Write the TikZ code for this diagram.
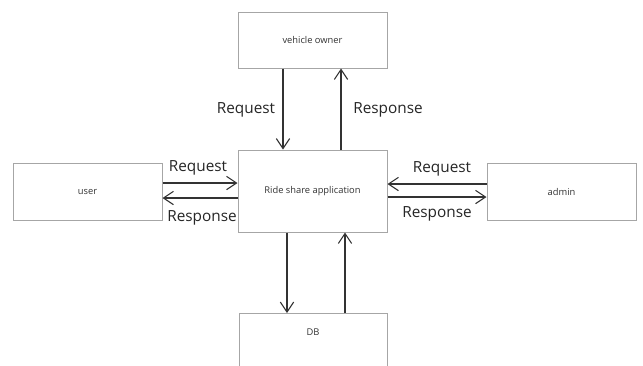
\documentclass[tikz,border=0pt]{standalone}
\usepackage{fontspec}
\setmainfont{Open Sans}
\usetikzlibrary{arrows.meta,calc}
\definecolor{boxgray}{HTML}{A6A6A6}
\definecolor{arrgray}{HTML}{333333}
\tikzset{
  box/.style={draw=boxgray, line width=0.75pt, fill=white, inner sep=0pt,
    minimum width=111.75pt, font=\fontsize{7}{8}\selectfont, text=black!80},
  arr/.style={draw=arrgray, line width=0.8pt,
    -{Straight Barb[length=7.5pt,width=10pt,line width=0.8pt]}},
  lbl/.style={font=\fontsize{11.5}{13}\selectfont, text=black!85, inner sep=0pt}
}
\begin{document}
\begin{tikzpicture}[x=0.75pt,y=-0.75pt]
\clip (0,0) rectangle (643,365);
\fill[white] (0,0) rectangle (643,365);
\node[box, minimum height=42pt] (vo) at (312.5,40) {vehicle owner};
\node[box, minimum height=61.5pt] (ride) at (312.5,191) {Ride share application};
\node[box, minimum height=42.75pt] (user) at (87.5,191.5) {user};
\node[box, minimum height=42.75pt] (admin) at (561.5,191.5) {admin};
\node[box, minimum height=46.5pt, minimum width=111pt, anchor=north] (db) at (313,313) {};
\node[font=\fontsize{7}{8}\selectfont, text=black!80] (dbt) at (313,332) {DB};
% vertical top
\draw[arr] ($(vo.south)+(-29.5,0)$) -- ($(ride.north)+(-29.5,0)$);
\draw[arr] ($(ride.north)+(28.5,0)$) -- ($(vo.south)+(28.5,0)$);
% vertical bottom
\draw[arr] ($(ride.south)+(-25.5,0)$) -- ($(db.north)+(-26,0)$);
\draw[arr] ($(db.north)+(32,0)$) -- ($(ride.south)+(32.5,0)$);
% left
\draw[arr] ($(user.east)+(0,-8.5)$) -- ($(ride.west)+(0,-8)$);
\draw[arr] ($(ride.west)+(0,7)$) -- ($(user.east)+(0,6.5)$);
% right
\draw[arr] ($(admin.west)+(0,-7.5)$) -- ($(ride.east)+(0,-7)$);
\draw[arr] ($(ride.east)+(0,6)$) -- ($(admin.west)+(0,5.5)$);
% labels
\node[lbl] (l1) at (246,110) {Request};
\node[lbl] (l2) at (388,110) {Response};
\node[lbl] (l3) at (198,168) {Request};
\node[lbl] (l4) at (202,218) {Response};
\node[lbl] (l5) at (442,169) {Request};
\node[lbl] (l6) at (437,214) {Response};
\end{tikzpicture}
\end{document}
